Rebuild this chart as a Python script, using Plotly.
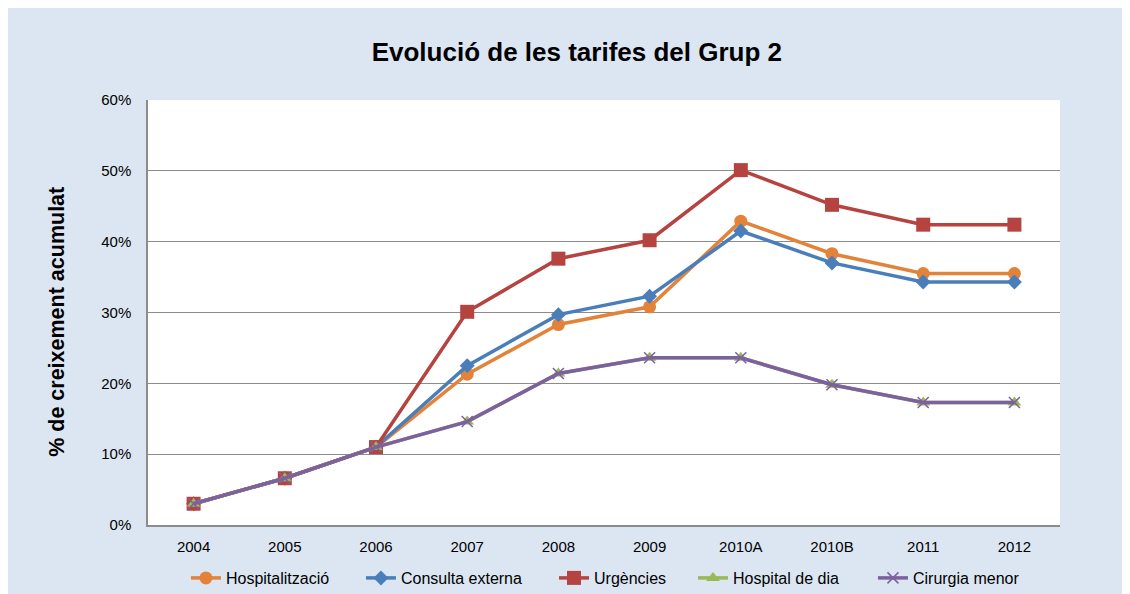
import plotly.graph_objects as go

years = ["2004", "2005", "2006", "2007", "2008", "2009", "2010A", "2010B", "2011", "2012"]
hospitalitzacio = [3.0, 6.6, 11.0, 21.3, 28.3, 30.8, 42.9, 38.3, 35.5, 35.5]
consulta_externa = [3.0, 6.6, 11.0, 22.5, 29.7, 32.3, 41.5, 37.0, 34.3, 34.3]
urgencies = [3.0, 6.6, 11.0, 30.1, 37.6, 40.2, 50.1, 45.2, 42.4, 42.4]
hospital_de_dia = [3.0, 6.6, 11.0, 14.6, 21.4, 23.6, 23.6, 19.8, 17.3, 17.3]
cirurgia_menor = [3.0, 6.6, 11.0, 14.6, 21.4, 23.6, 23.6, 19.8, 17.3, 17.3]
y_ticks = [0, 10, 20, 30, 40, 50, 60]
y_tick_labels = ["0%", "10%", "20%", "30%", "40%", "50%", "60%"]

series = [
    ("Hospitalització", hospitalitzacio, "#E3833A", "circle", 13, None),
    ("Consulta externa", consulta_externa, "#4A7EBB", "diamond", 11.5, None),
    ("Urgències", urgencies, "#B5433F", "square", 14, None),
    ("Hospital de dia", hospital_de_dia, "#98B954", "triangle-up", 12, None),
    ("Cirurgia menor", cirurgia_menor, "#7D60A0", "x-thin", 11, 1.5),
]
legend_ids = ["legend", "legend2", "legend3", "legend4", "legend5"]
legend_x = [0.0416, 0.2335, 0.4452, 0.5976, 0.7949]

fig = go.Figure()
for (name, vals, color, sym, size, mlw), lid in zip(series, legend_ids):
    marker = dict(symbol=sym, size=size, color=color)
    if mlw:
        marker["line"] = dict(color=color, width=mlw)
    else:
        marker["line"] = dict(width=0)
    fig.add_trace(go.Scatter(
        x=years, y=vals, name=name, mode="lines+markers",
        line=dict(color=color, width=3.5), marker=marker, legend=lid,
    ))

font_family = "Liberation Sans, Arial, sans-serif"
legend_common = dict(orientation="h", xanchor="left", y=-0.1247, yanchor="middle",
                     font=dict(size=16), bgcolor="rgba(0,0,0,0)", itemwidth=30)
layout_legends = {lid: dict(x=lx, **legend_common) for lid, lx in zip(legend_ids, legend_x)}

fig.update_layout(
    width=1122, height=586,
    margin=dict(l=140, r=70, t=92, b=69, autoexpand=False),
    paper_bgcolor="#DCE6F2",
    plot_bgcolor="white",
    font=dict(family=font_family, size=14, color="black"),
    title=dict(text="<b>Evolució de les tarifes del Grup 2</b>", x=0.507, xanchor="center",
               y=0.925, yanchor="middle", font=dict(size=26, family=font_family, color="black")),
    xaxis=dict(type="category", range=[-0.5, len(years) - 0.5], showgrid=False, showline=True,
               linecolor="#8C8C8C", linewidth=1.5,
               ticks="", tickfont=dict(size=15), ticklabelstandoff=7),
    yaxis=dict(range=[0, 60], tickvals=y_ticks, ticktext=y_tick_labels, showgrid=True,
               gridcolor="#8C8C8C", gridwidth=1, showline=True, linecolor="#8C8C8C", linewidth=1.5,
               zeroline=False, ticks="", tickfont=dict(size=15), ticklabelstandoff=12),
    showlegend=True,
    **layout_legends,
)
fig.add_annotation(text="<b>% de creixement acumulat</b>", xref="paper", yref="paper",
                   x=-0.0998, y=0.478, xanchor="center", yanchor="middle", textangle=-90,
                   showarrow=False, font=dict(size=21.5, family=font_family, color="black"))
fig.write_html("out.html")
